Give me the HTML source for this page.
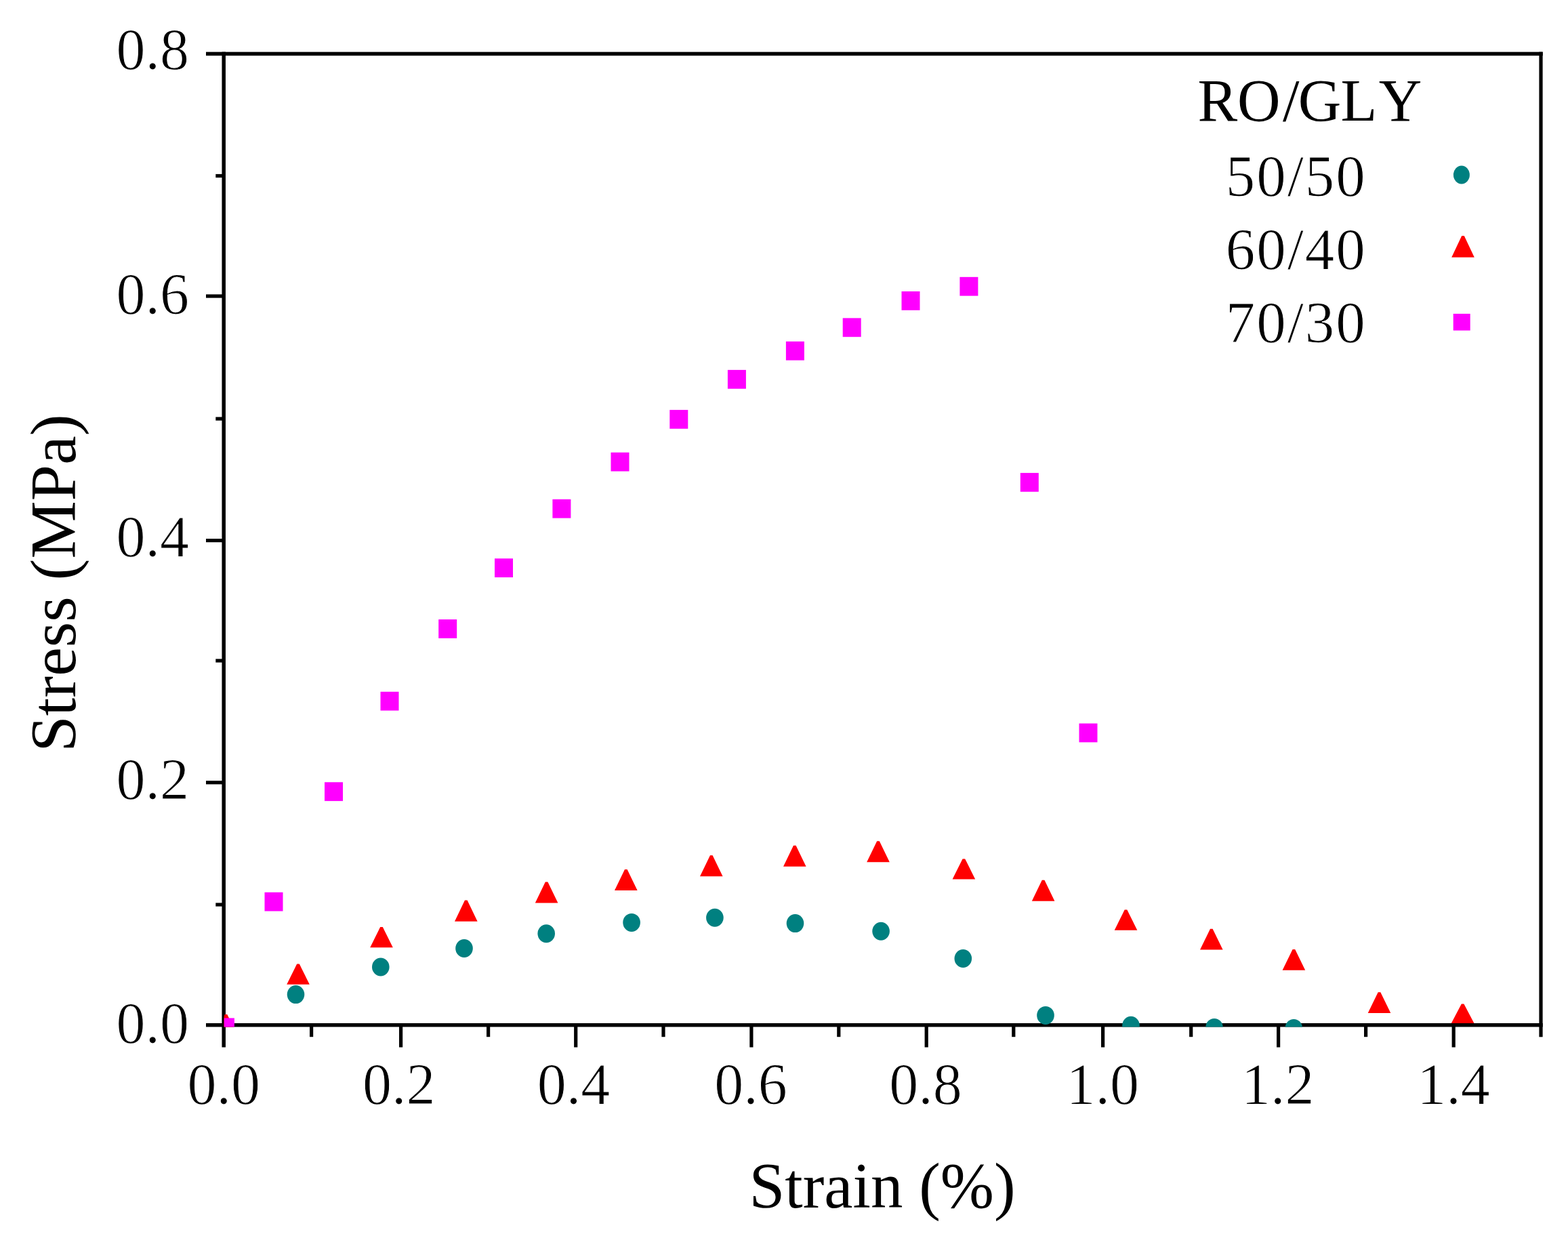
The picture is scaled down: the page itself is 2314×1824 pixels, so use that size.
<!DOCTYPE html>
<html><head><meta charset="utf-8"><title>Stress-Strain</title>
<style>html,body{margin:0;padding:0;background:#fff;overflow:hidden;}svg{display:block;}text{font-family:"Liberation Serif","Times New Roman",serif;fill:#000;}.t{stroke:#fff;stroke-width:1px;}</style></head><body>
<svg width="2314" height="1824" viewBox="0 0 2314 1824">
<rect x="0" y="0" width="2314" height="1824" fill="#fff"/>
<rect x="304.00" y="76.65" width="1972.75" height="5.50" fill="#000000"/>
<rect x="304.00" y="1509.95" width="1972.75" height="5.50" fill="#000000"/>
<rect x="327.45" y="76.65" width="5.50" height="1468.85" fill="#000000"/>
<rect x="2271.40" y="76.65" width="5.20" height="1453.65" fill="#000000"/>
<rect x="304.00" y="434.40" width="26.20" height="5.20" fill="#000000"/>
<rect x="304.00" y="795.00" width="26.20" height="5.20" fill="#000000"/>
<rect x="304.00" y="1152.20" width="26.20" height="5.20" fill="#000000"/>
<rect x="318.30" y="256.90" width="11.90" height="5.20" fill="#000000"/>
<rect x="318.30" y="615.40" width="11.90" height="5.20" fill="#000000"/>
<rect x="318.30" y="972.40" width="11.90" height="5.20" fill="#000000"/>
<rect x="318.30" y="1332.40" width="11.90" height="5.20" fill="#000000"/>
<rect x="589.00" y="1512.70" width="5.20" height="32.80" fill="#000000"/>
<rect x="847.10" y="1512.70" width="5.20" height="32.80" fill="#000000"/>
<rect x="1106.30" y="1512.70" width="5.20" height="32.80" fill="#000000"/>
<rect x="1364.60" y="1512.70" width="5.20" height="32.80" fill="#000000"/>
<rect x="1625.00" y="1512.70" width="5.20" height="32.80" fill="#000000"/>
<rect x="1884.00" y="1512.70" width="5.20" height="32.80" fill="#000000"/>
<rect x="2142.60" y="1512.70" width="5.20" height="32.80" fill="#000000"/>
<rect x="457.00" y="1512.70" width="5.20" height="17.50" fill="#000000"/>
<rect x="718.00" y="1512.70" width="5.20" height="17.50" fill="#000000"/>
<rect x="976.40" y="1512.70" width="5.20" height="17.50" fill="#000000"/>
<rect x="1235.20" y="1512.70" width="5.20" height="17.50" fill="#000000"/>
<rect x="1493.20" y="1512.70" width="5.20" height="17.50" fill="#000000"/>
<rect x="1755.10" y="1512.70" width="5.20" height="17.50" fill="#000000"/>
<rect x="2013.00" y="1512.70" width="5.20" height="17.50" fill="#000000"/>
<text x="279.0" y="102.0" font-size="86" text-anchor="end" class="t">0.8</text>
<text x="279.0" y="462.7" font-size="86" text-anchor="end" class="t">0.6</text>
<text x="279.0" y="820.9" font-size="86" text-anchor="end" class="t">0.4</text>
<text x="279.0" y="1178.9" font-size="86" text-anchor="end" class="t">0.2</text>
<text x="279.0" y="1539.1" font-size="86" text-anchor="end" class="t">0.0</text>
<text x="330.3" y="1629.2" font-size="86" text-anchor="middle" class="t">0.0</text>
<text x="588.8" y="1629.2" font-size="86" text-anchor="middle" class="t">0.2</text>
<text x="846.5" y="1629.2" font-size="86" text-anchor="middle" class="t">0.4</text>
<text x="1108.1" y="1629.2" font-size="86" text-anchor="middle" class="t">0.6</text>
<text x="1366.0" y="1629.2" font-size="86" text-anchor="middle" class="t">0.8</text>
<text x="1627.3" y="1629.2" font-size="86" text-anchor="middle" class="t">1.0</text>
<text x="1885.8" y="1629.2" font-size="86" text-anchor="middle" class="t">1.2</text>
<text x="2145.0" y="1629.2" font-size="86" text-anchor="middle" class="t">1.4</text>
<text x="1302.0" y="1781.5" font-size="95" text-anchor="middle">Strain (%)</text>
<text transform="translate(110.5 860.5) rotate(-90)" font-size="96" text-anchor="middle">Stress (MPa)</text>
<text x="1767.4 1826.1 1892.9 1915.8 1978.4 2034.7" y="178.1" font-size="88">RO/GLY</text>
<text x="1808.7" y="289.0" font-size="87" letter-spacing="2" class="t">50/50</text>
<text x="1808.7" y="396.6" font-size="87" letter-spacing="2" class="t">60/40</text>
<text x="1808.7" y="504.8" font-size="87" letter-spacing="2" class="t">70/30</text>
<ellipse cx="2156.9" cy="258.0" rx="12.0" ry="13.4" fill="#008080"/>
<polygon points="2157.2,348.0 2160.8,348.0 2175.8,379.8 2142.2,379.8" fill="#ff0000"/>
<rect x="2144.7" y="463.0" width="25.0" height="24.7" fill="#ff00ff"/>
<defs><clipPath id="pa"><rect x="330.5" y="60" width="1960" height="1455.6"/></clipPath></defs>
<g clip-path="url(#pa)">
<ellipse cx="436.5" cy="1467.6" rx="12.8" ry="13.5" fill="#008080"/>
<ellipse cx="561.8" cy="1427.0" rx="12.8" ry="13.5" fill="#008080"/>
<ellipse cx="685.0" cy="1399.5" rx="12.8" ry="13.5" fill="#008080"/>
<ellipse cx="806.2" cy="1377.8" rx="12.8" ry="13.5" fill="#008080"/>
<ellipse cx="932.1" cy="1361.4" rx="12.8" ry="13.5" fill="#008080"/>
<ellipse cx="1054.9" cy="1354.3" rx="12.8" ry="13.5" fill="#008080"/>
<ellipse cx="1173.5" cy="1362.6" rx="12.8" ry="13.5" fill="#008080"/>
<ellipse cx="1300.1" cy="1374.2" rx="12.8" ry="13.5" fill="#008080"/>
<ellipse cx="1421.3" cy="1414.5" rx="12.8" ry="13.5" fill="#008080"/>
<ellipse cx="1543.0" cy="1498.4" rx="12.8" ry="13.5" fill="#008080"/>
<ellipse cx="1669.0" cy="1513.2" rx="12.8" ry="13.5" fill="#008080"/>
<ellipse cx="1792.0" cy="1516.4" rx="12.8" ry="13.5" fill="#008080"/>
<ellipse cx="1909.3" cy="1517.4" rx="12.8" ry="13.5" fill="#008080"/>
<polygon points="331.7,1497.0 335.3,1497.0 350.3,1527.5 316.7,1527.5" fill="#ff0000"/>
<polygon points="438.2,1422.6 441.8,1422.6 456.8,1452.7 423.2,1452.7" fill="#ff0000"/>
<polygon points="561.2,1368.1 564.8,1368.1 579.8,1398.2 546.2,1398.2" fill="#ff0000"/>
<polygon points="686.0,1328.4 689.6,1328.4 704.6,1359.8 671.0,1359.8" fill="#ff0000"/>
<polygon points="804.8,1301.6 808.4,1301.6 823.4,1332.6 789.8,1332.6" fill="#ff0000"/>
<polygon points="922.0,1283.0 925.6,1283.0 940.6,1314.0 907.0,1314.0" fill="#ff0000"/>
<polygon points="1048.0,1262.3 1051.6,1262.3 1066.6,1293.3 1033.0,1293.3" fill="#ff0000"/>
<polygon points="1171.0,1247.8 1174.6,1247.8 1189.6,1278.8 1156.0,1278.8" fill="#ff0000"/>
<polygon points="1294.2,1241.2 1297.8,1241.2 1312.8,1272.2 1279.2,1272.2" fill="#ff0000"/>
<polygon points="1420.6,1267.4 1424.2,1267.4 1439.2,1297.5 1405.6,1297.5" fill="#ff0000"/>
<polygon points="1537.8,1298.8 1541.4,1298.8 1556.4,1329.8 1522.8,1329.8" fill="#ff0000"/>
<polygon points="1659.7,1342.6 1663.3,1342.6 1678.3,1372.7 1644.7,1372.7" fill="#ff0000"/>
<polygon points="1786.0,1370.8 1789.6,1370.8 1804.6,1401.6 1771.0,1401.6" fill="#ff0000"/>
<polygon points="1907.6,1401.1 1911.2,1401.1 1926.2,1431.7 1892.6,1431.7" fill="#ff0000"/>
<polygon points="2033.7,1464.2 2037.3,1464.2 2052.3,1495.0 2018.7,1495.0" fill="#ff0000"/>
<polygon points="2156.8,1481.5 2160.4,1481.5 2175.4,1510.0 2141.8,1510.0" fill="#ff0000"/>
<rect x="330.5" y="1502.4" width="15.4" height="14.0" fill="#ff00ff"/>
<rect x="390.5" y="1316.8" width="27.0" height="27.8" fill="#ff00ff"/>
<rect x="479.0" y="1154.3" width="27.0" height="27.8" fill="#ff00ff"/>
<rect x="561.5" y="1020.8" width="27.0" height="27.8" fill="#ff00ff"/>
<rect x="647.2" y="914.1" width="27.0" height="27.8" fill="#ff00ff"/>
<rect x="730.0" y="824.2" width="27.0" height="27.8" fill="#ff00ff"/>
<rect x="815.4" y="736.8" width="27.0" height="27.8" fill="#ff00ff"/>
<rect x="901.5" y="667.7" width="27.0" height="27.8" fill="#ff00ff"/>
<rect x="988.3" y="604.9" width="27.0" height="27.8" fill="#ff00ff"/>
<rect x="1073.9" y="545.9" width="27.0" height="27.8" fill="#ff00ff"/>
<rect x="1159.9" y="503.9" width="27.0" height="27.8" fill="#ff00ff"/>
<rect x="1243.7" y="469.4" width="27.0" height="27.8" fill="#ff00ff"/>
<rect x="1330.5" y="430.0" width="27.0" height="27.8" fill="#ff00ff"/>
<rect x="1416.4" y="408.8" width="27.0" height="27.8" fill="#ff00ff"/>
<rect x="1505.8" y="697.9" width="27.0" height="27.8" fill="#ff00ff"/>
<rect x="1592.5" y="1067.6" width="27.0" height="27.8" fill="#ff00ff"/>
</g>
</svg></body></html>
